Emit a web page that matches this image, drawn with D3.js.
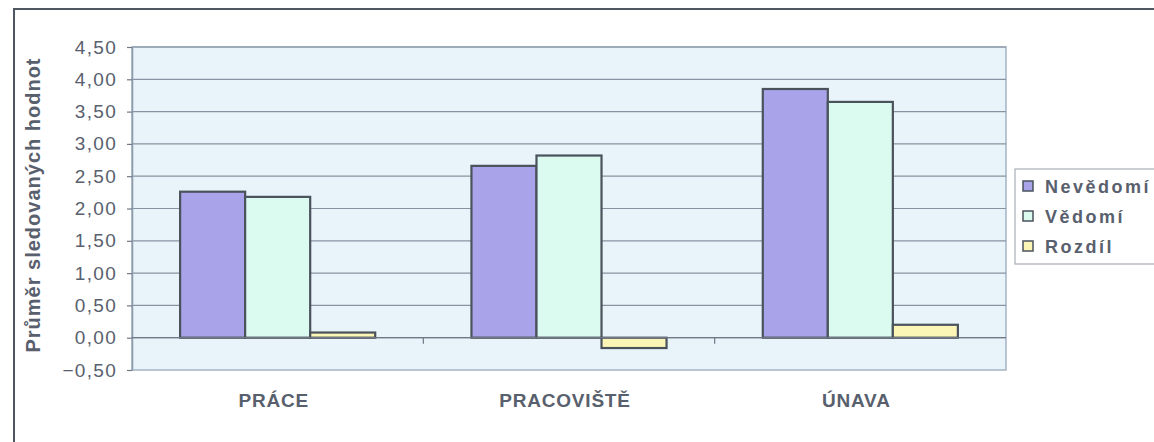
<!DOCTYPE html>
<html>
<head>
<meta charset="utf-8">
<script src="https://cdn.jsdelivr.net/npm/d3@7"></script>
<style>
  body { margin: 0; background: #fff; }
  svg { display: block; font-family: Arial, "Liberation Sans", sans-serif; }
</style>
</head>
<body>
<div id="chart"></div>
<script>
// data
var categories = ["PRÁCE", "PRACOVIŠTĚ", "ÚNAVA"];
var seriesNames = ["Nevědomí", "Vědomí", "Rozdíl"];
var nevedomi = [2.26, 2.66, 3.85];
var vedomi = [2.18, 2.82, 3.65];
var rozdil = [0.08, -0.16, 0.20];
var yTicks = [-0.5, 0, 0.5, 1, 1.5, 2, 2.5, 3, 3.5, 4, 4.5];

var seriesValues = [nevedomi, vedomi, rozdil];
var colors = ["#a9a4ea", "#dcfbf0", "#fbf6b6"];
var textCol = "#59606d";

var W = 1154, H = 442;
var plot = {left: 132, right: 1006, top: 47, bottom: 370};

var svg = d3.select("#chart").append("svg")
    .attr("width", W).attr("height", H);

// outer chart frame (only left and top edges are visible in the scan)
svg.append("rect")
    .attr("x", 14).attr("y", 9)
    .attr("width", W).attr("height", H)
    .attr("fill", "none")
    .attr("stroke", "#4f5762")
    .attr("stroke-width", 2);

var y = d3.scaleLinear().domain([-0.5, 4.5]).range([plot.bottom, plot.top]);
var x0 = d3.scaleBand().domain(categories).range([plot.left, plot.right]);
var x1 = d3.scaleBand().domain(seriesNames).range([0, x0.bandwidth()])
    .paddingInner(0).paddingOuter(0.74);

// plot background
svg.append("rect")
    .attr("x", plot.left).attr("y", plot.top)
    .attr("width", plot.right - plot.left).attr("height", plot.bottom - plot.top)
    .attr("fill", "#e8f3fa")
    .attr("stroke", "#a3b4c4")
    .attr("stroke-width", 1.5);

// gridlines
svg.append("g").selectAll("line")
    .data(yTicks.filter(function(d) { return d > -0.5; }))
  .enter().append("line")
    .attr("x1", plot.left).attr("x2", plot.right)
    .attr("y1", function(d) { return y(d); })
    .attr("y2", function(d) { return y(d); })
    .attr("stroke", "#8793a0")
    .attr("stroke-width", 1.2);

// y axis
var fmt = function(d) { return d3.format(".2f")(d).replace(".", ","); };
var yAxis = svg.append("g")
    .attr("transform", "translate(" + plot.left + ",0)")
    .call(d3.axisLeft(y).tickValues(yTicks).tickFormat(fmt).tickSizeInner(5).tickSizeOuter(0).tickPadding(10));
yAxis.select(".domain").attr("stroke", "#8a9aab").attr("stroke-width", 1.5);
yAxis.selectAll(".tick line").attr("stroke", "#6f7884").attr("stroke-width", 1.2);
yAxis.selectAll(".tick text")
    .attr("fill", textCol)
    .style("font-size", "19px")
    .style("letter-spacing", "1.3px");

// y axis title
svg.append("text")
    .attr("transform", "translate(40,205) rotate(-90)")
    .attr("text-anchor", "middle")
    .attr("fill", textCol)
    .style("font-weight", "bold")
    .style("font-size", "20px")
    .style("letter-spacing", "1px")
    .text("Průměr sledovaných hodnot");

// bars
var groups = svg.append("g").selectAll("g")
    .data(categories)
  .enter().append("g")
    .attr("transform", function(d) { return "translate(" + x0(d) + ",0)"; });

groups.selectAll("rect")
    .data(function(c, i) {
      return seriesNames.map(function(s, j) { return {s: s, j: j, v: seriesValues[j][i]}; });
    })
  .enter().append("rect")
    .attr("x", function(d) { return x1(d.s); })
    .attr("width", x1.bandwidth())
    .attr("y", function(d) { return y(Math.max(0, d.v)); })
    .attr("height", function(d) { return Math.abs(y(d.v) - y(0)); })
    .attr("fill", function(d) { return colors[d.j]; })
    .attr("stroke", "#4a525c")
    .attr("stroke-width", 2.2);

// category axis on the zero line, ticks between categories
svg.append("line")
    .attr("x1", plot.left).attr("x2", plot.right)
    .attr("y1", y(0)).attr("y2", y(0))
    .attr("stroke", "#6f7884").attr("stroke-width", 1.2);
svg.append("g").selectAll("line")
    .data(categories.slice(1))
  .enter().append("line")
    .attr("x1", function(d) { return x0(d); })
    .attr("x2", function(d) { return x0(d); })
    .attr("y1", y(0)).attr("y2", y(0) + 6)
    .attr("stroke", "#6f7884").attr("stroke-width", 1.2);

// category labels
svg.append("g").selectAll("text")
    .data(categories)
  .enter().append("text")
    .attr("x", function(d) { return x0(d) + x0.bandwidth() / 2 - 4; })
    .attr("y", 407)
    .attr("text-anchor", "middle")
    .attr("fill", textCol)
    .style("font-weight", "bold")
    .style("font-size", "19px")
    .style("letter-spacing", "0.8px")
    .text(function(d) { return d; });

// legend
var legend = svg.append("g").attr("transform", "translate(1015,169)");
legend.append("rect")
    .attr("width", 200).attr("height", 95)
    .attr("fill", "#fff")
    .attr("stroke", "#a9b0b8")
    .attr("stroke-width", 1.2);
var items = legend.selectAll("g.item")
    .data(seriesNames)
  .enter().append("g")
    .attr("class", "item")
    .attr("transform", function(d, i) { return "translate(0," + (17 + i * 30) + ")"; });
items.append("rect")
    .attr("x", 8).attr("y", -5)
    .attr("width", 10).attr("height", 10)
    .attr("fill", function(d, i) { return colors[i]; })
    .attr("stroke", "#4a525c")
    .attr("stroke-width", 1.5);
items.append("text")
    .attr("x", 30).attr("y", 7)
    .attr("fill", textCol)
    .style("font-weight", "bold")
    .style("font-size", "18px")
    .style("letter-spacing", "2.5px")
    .text(function(d) { return d; });
</script>
</body>
</html>
